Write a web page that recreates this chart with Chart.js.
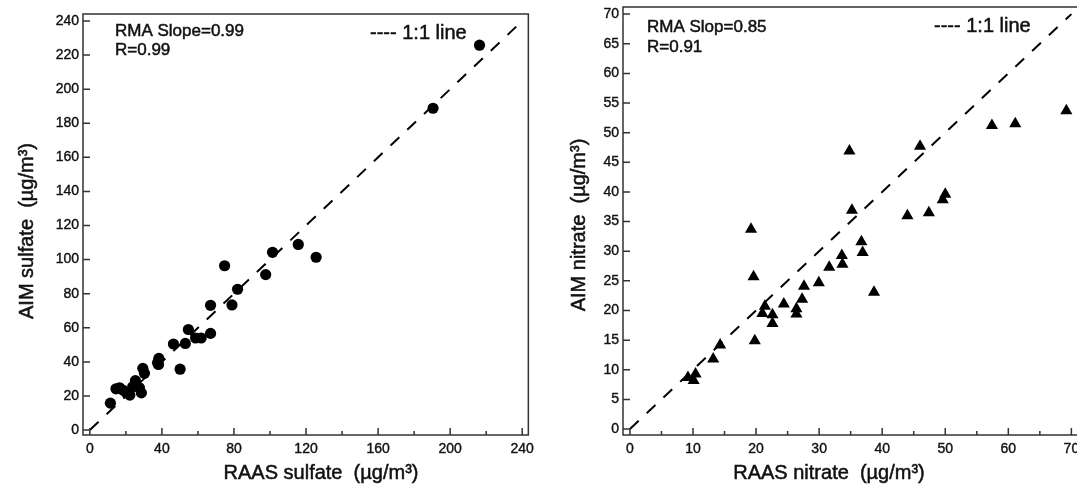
<!DOCTYPE html>
<html>
<head>
<meta charset="utf-8">
<script src="https://cdn.jsdelivr.net/npm/chart.js@4.4.0/dist/chart.umd.min.js"></script>
<style>
    html, body { margin: 0; padding: 0; background: #fff; overflow: hidden; width: 1077px; height: 485px; position: relative; }
    canvas { position: absolute; }
    #chart-sulfate { left: 0; top: 0; }
    #chart-nitrate { left: 540px; top: -10px; }
</style>
</head>
<body>
<canvas id="chart-sulfate" width="540" height="485"></canvas>
<canvas id="chart-nitrate" width="552" height="495"></canvas>
<script>
// sulfate panel (RAAS vs AIM), ug/m3
const sulfateRaas = [11.4, 14.5, 16.5, 18.3, 20.3, 22.2, 23.8, 25.3, 25.7, 27.5, 28.6, 29.4, 30.3, 37.6, 38.3, 38.1, 46.4, 50.1, 53.0, 54.7, 58.7, 61.8, 67.0, 67.0, 74.8, 78.9, 82.0, 97.6, 101.4, 115.7, 125.6, 190.5, 216.3];
const sulfateAim  = [15.8, 24.2, 24.8, 23.5, 21.8, 20.5, 25.4, 29.0, 26.5, 24.8, 21.8, 36.2, 33.3, 39.5, 42.0, 38.5, 50.5, 35.7, 50.8, 59.0, 54.0, 54.0, 56.7, 73.2, 96.4, 73.4, 82.6, 91.2, 104.3, 108.9, 101.4, 188.8, 225.8];

// nitrate panel
const nitrateRaas = [9.2, 10.1, 10.4, 13.2, 14.3, 19.2, 19.6, 19.8, 21.0, 21.4, 22.6, 22.6, 24.4, 26.4, 26.4, 27.3, 27.6, 29.95, 31.6, 33.6, 33.7, 34.8, 35.2, 36.7, 36.9, 38.7, 44.0, 46.0, 47.4, 49.6, 50.0, 57.4, 61.1, 69.2];
const nitrateAim  = [8.7, 8.2, 9.3, 11.8, 14.2, 33.7, 25.7, 14.9, 19.5, 20.7, 19.3, 17.8, 21.1, 19.4, 20.3, 21.9, 24.1, 24.7, 27.3, 29.3, 27.8, 46.9, 36.9, 31.6, 29.8, 23.1, 36.0, 47.7, 36.5, 38.7, 39.6, 51.2, 51.5, 53.7];

const sulfateXTicks = [0, 40, 80, 120, 160, 200, 240];
const sulfateXMinor = [20, 60, 100, 140, 180, 220];
const sulfateYTicks = [0, 20, 40, 60, 80, 100, 120, 140, 160, 180, 200, 220, 240];
const sulfateOneToOne = [0, 240];

const nitrateXTicks = [0, 10, 20, 30, 40, 50, 60, 70];
const nitrateXMinor = [5, 15, 25, 35, 45, 55, 65];
const nitrateYTicks = [0, 5, 10, 15, 20, 25, 30, 35, 40, 45, 50, 55, 60, 65, 70];
const nitrateOneToOne = [0, 70];

const FONT = '"Liberation Sans", Arial, Helvetica, sans-serif';
const INK = '#111';

const framePlugin = {
    id: 'frame',
    afterDatasetsDraw(chart, args, o) {
        const { ctx, chartArea: a, scales: { x, y } } = chart;
        ctx.save();
        ctx.strokeStyle = '#333';
        ctx.lineWidth = 1.5;
        ctx.strokeRect(a.left, a.top, a.right - a.left, a.bottom - a.top);

        // inward tick marks
        ctx.beginPath();
        o.xMajor.forEach(v => { const p = x.getPixelForValue(v); ctx.moveTo(p, a.bottom); ctx.lineTo(p, a.bottom - 7); });
        o.xMinor.forEach(v => { const p = x.getPixelForValue(v); ctx.moveTo(p, a.bottom); ctx.lineTo(p, a.bottom - 4); });
        o.yMajor.forEach(v => { const p = y.getPixelForValue(v); ctx.moveTo(a.left, p); ctx.lineTo(a.left + 7, p); });
        ctx.stroke();

        ctx.fillStyle = INK;
        ctx.strokeStyle = INK;
        ctx.lineWidth = 0.5;
        ctx.textBaseline = 'middle';
        o.texts.forEach(t => {
            ctx.save();
            ctx.font = t.font + ' ' + FONT;
            ctx.textAlign = t.align || 'left';
            ctx.translate(t.x, t.y);
            if (t.rotate) ctx.rotate(-Math.PI / 2);
            ctx.fillText(t.text, 0, 0);
            ctx.strokeText(t.text, 0, 0);
            ctx.restore();
        });
        ctx.restore();
    }
};

function pts(xs, ys) {
    return xs.map((v, i) => ({ x: v, y: ys[i] }));
}

function makeChart(id, cfg) {
    const tickStyle = { color: INK, font: { family: FONT, size: 14 }, textStrokeColor: INK, textStrokeWidth: 0.4, callback: v => v };
    new Chart(document.getElementById(id), {
        type: 'scatter',
        data: {
            datasets: [
                {
                    data: pts(cfg.xs, cfg.ys),
                    pointStyle: cfg.marker,
                    pointRadius: cfg.radius,
                    backgroundColor: '#000',
                    borderColor: '#000',
                    borderWidth: 0
                },
                {
                    data: pts(cfg.line, cfg.line),
                    showLine: true,
                    borderColor: '#000',
                    borderWidth: 2,
                    borderDash: [12, 11],
                    pointRadius: 0
                }
            ]
        },
        options: {
            responsive: false,
            animation: false,
            layout: { padding: { top: cfg.top, right: 8, bottom: 0, left: 0 } },
            plugins: {
                legend: { display: false },
                tooltip: { enabled: false },
                frame: cfg.frame
            },
            scales: {
                x: {
                    type: 'linear',
                    min: cfg.xMin, max: cfg.xMax,
                    grid: { display: false, drawTicks: false },
                    border: { display: false },
                    afterBuildTicks: s => { s.ticks = cfg.xTicks.map(v => ({ value: v })); },
                    afterFit: s => { s.height = 50; },
                    ticks: { ...tickStyle, padding: 6, maxRotation: 0 }
                },
                y: {
                    type: 'linear',
                    min: cfg.yMin, max: cfg.yMax,
                    grid: { display: false, drawTicks: false },
                    border: { display: false },
                    afterBuildTicks: s => { s.ticks = cfg.yTicks.map(v => ({ value: v })); },
                    afterFit: s => { s.width = 83; },
                    ticks: { ...tickStyle, padding: 4 }
                }
            }
        },
        plugins: [framePlugin]
    });
}

makeChart('chart-sulfate', {
    xs: sulfateRaas, ys: sulfateAim, line: sulfateOneToOne,
    marker: 'circle', radius: 5.6, top: 14,
    xMin: -3.8, xMax: 243.4, yMin: -2.9, yMax: 244.1,
    xTicks: sulfateXTicks, yTicks: sulfateYTicks,
    frame: {
        xMajor: sulfateXTicks, xMinor: sulfateXMinor, yMajor: sulfateYTicks,
        texts: [
            { text: 'RMA Slope=0.99', x: 115, y: 31, font: '17px' },
            { text: 'R=0.99', x: 115, y: 50, font: '17px' },
            { text: '---- 1:1 line', x: 370, y: 33, font: '20px' },
            { text: 'AIM sulfate  (µg/m³)', x: 27, y: 231, font: '20px', align: 'center', rotate: true },
            { text: 'RAAS sulfate  (µg/m³)', x: 321, y: 473, font: '20px', align: 'center' }
        ]
    }
});

// canvas is shifted up 10px, so y positions here are page y + 10
makeChart('chart-nitrate', {
    xs: nitrateRaas, ys: nitrateAim, line: nitrateOneToOne,
    marker: 'triangle', radius: 7, top: 17,
    xMin: -1.1, xMax: 72, yMin: -1, yMax: 71.2,
    xTicks: nitrateXTicks, yTicks: nitrateYTicks,
    frame: {
        xMajor: nitrateXTicks, xMinor: nitrateXMinor, yMajor: nitrateYTicks,
        texts: [
            { text: 'RMA Slop=0.85', x: 107, y: 37, font: '17px' },
            { text: 'R=0.91', x: 107, y: 57, font: '17px' },
            { text: '---- 1:1 line', x: 394, y: 36, font: '20px' },
            { text: 'AIM nitrate  (µg/m³)', x: 39, y: 235, font: '20px', align: 'center', rotate: true },
            { text: 'RAAS nitrate  (µg/m³)', x: 289, y: 483, font: '20px', align: 'center' }
        ]
    }
});
</script>
</body>
</html>
